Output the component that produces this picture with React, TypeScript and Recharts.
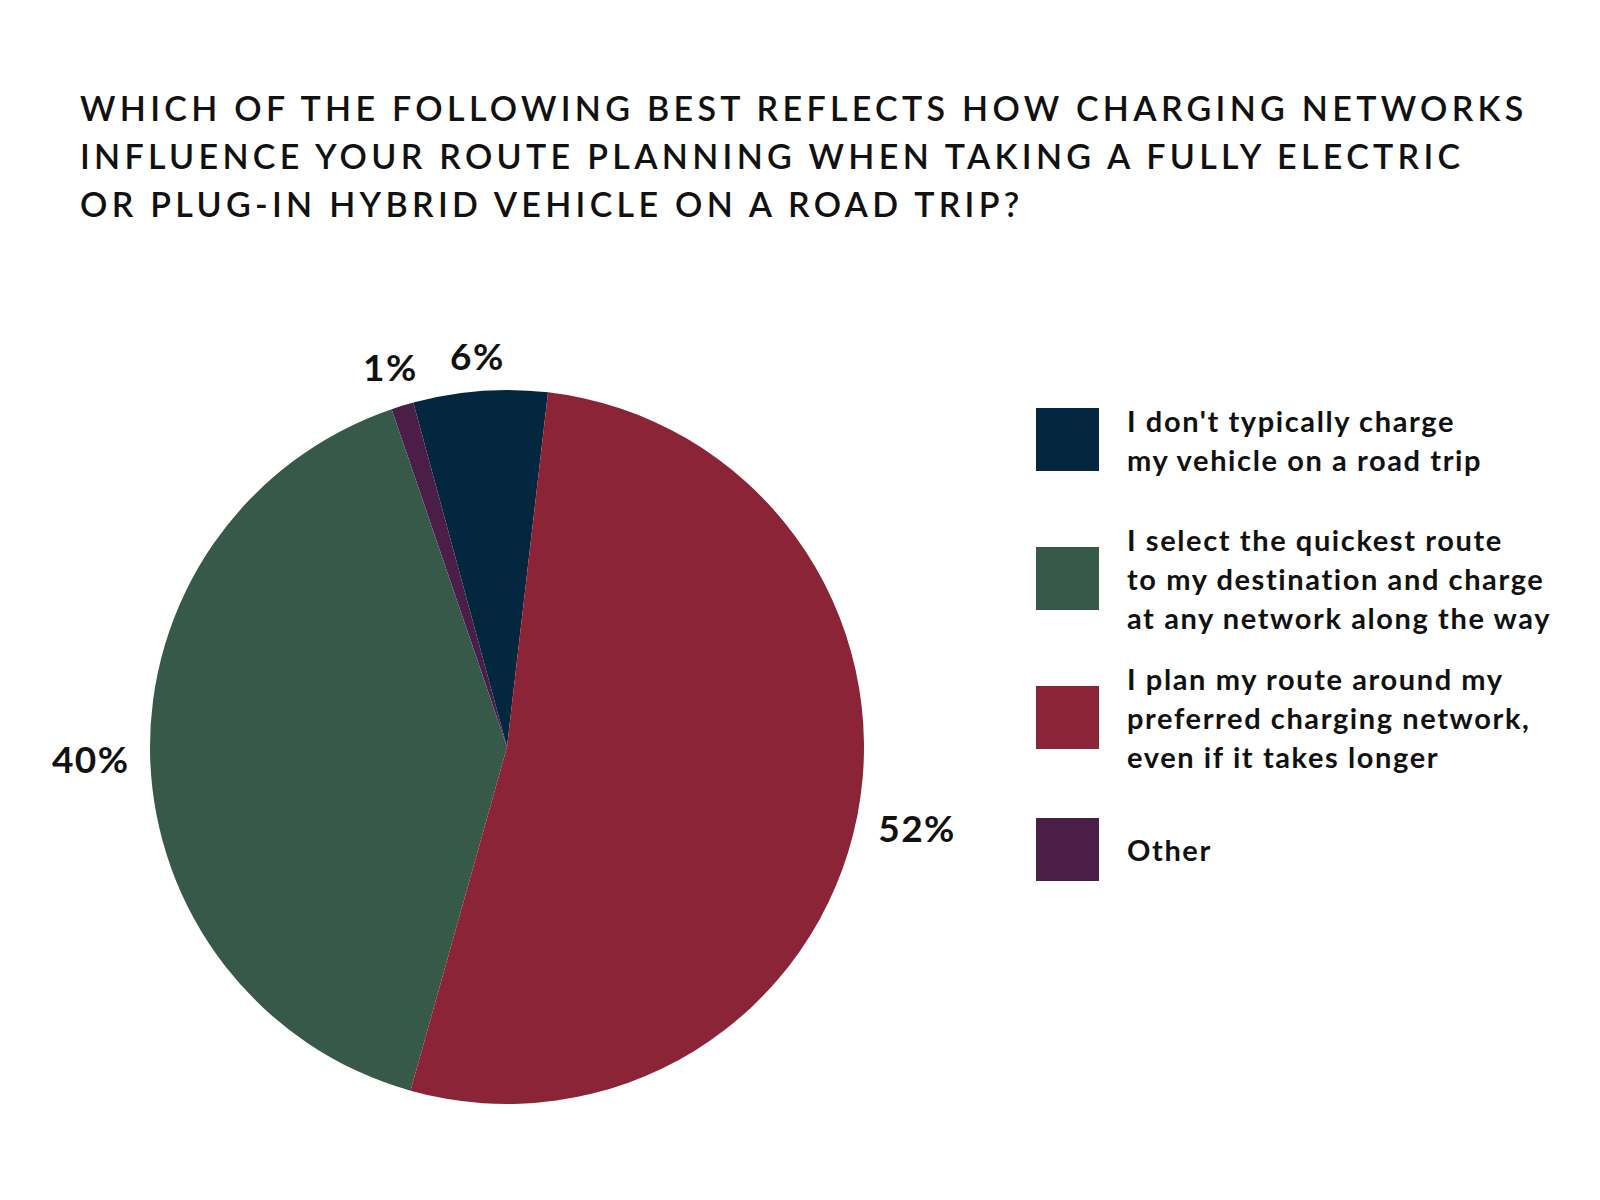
import { PieChart, Pie, Cell, Legend } from 'recharts';

const titleLines = [
  'WHICH OF THE FOLLOWING BEST REFLECTS HOW CHARGING NETWORKS',
  'INFLUENCE YOUR ROUTE PLANNING WHEN TAKING A FULLY ELECTRIC',
  'OR PLUG-IN HYBRID VEHICLE ON A ROAD TRIP?',
];

const categories = [
  "I don't typically charge my vehicle on a road trip",
  'I select the quickest route to my destination and charge at any network along the way',
  'I plan my route around my preferred charging network, even if it takes longer',
  'Other',
];

// legend text broken the way the reference breaks it
const legendLines = [
  ["I don't typically charge", 'my vehicle on a road trip'],
  ['I select the quickest route', 'to my destination and charge', 'at any network along the way'],
  ['I plan my route around my', 'preferred charging network,', 'even if it takes longer'],
  ['Other'],
];

const shares = [6, 40, 52, 1];
const colors = ['#03273F', '#36594A', '#8A2436', '#4A1E47'];

// slices go counter-clockwise starting just right of 12 o'clock
const sliceOrder = [0, 3, 1, 2];

const pieData = sliceOrder.map((i) => ({ name: categories[i], value: shares[i], fill: colors[i] }));

const FONT = 'Lato, "Open Sans", sans-serif';
const RAD = Math.PI / 180;

function PctLabel(props: any) {
  const { cx, cy, midAngle, outerRadius, value } = props;
  const text = `${value}%`;
  const w = text.length * 26;
  const h = 28;
  const c = Math.cos(-midAngle * RAD);
  const s = Math.sin(-midAngle * RAD);
  const r = outerRadius + 20 + (Math.abs(c) * w) / 2 + (Math.abs(s) * h) / 2;
  return (
    <text
      x={cx + r * c}
      y={cy + r * s}
      textAnchor="middle"
      dominantBaseline="central"
      fill="#111"
      style={{ fontFamily: FONT, fontSize: 37, fontWeight: 700, letterSpacing: 1.5 }}
    >
      {text}
    </text>
  );
}

function LegendBlock() {
  return (
    <div style={{ fontFamily: FONT }}>
      {categories.map((name, i) => (
        <div
          key={name}
          style={{ display: 'flex', alignItems: 'center', height: i === categories.length - 1 ? 124 : 139 }}
        >
          <div style={{ width: 63, height: 63, background: colors[i], flexShrink: 0 }} />
          <div
            style={{
              marginLeft: 28,
              fontSize: 29,
              fontWeight: 700,
              letterSpacing: 1.6,
              lineHeight: '39px',
              color: '#111',
            }}
          >
            {legendLines[i].map((line) => (
              <div key={line} style={{ whiteSpace: 'nowrap' }}>{line}</div>
            ))}
          </div>
        </div>
      ))}
    </div>
  );
}

export default function App() {
  return (
    <div style={{ position: 'absolute', left: 0, top: 0, width: 1600, height: 1200, background: '#fff' }}>
      <div
        style={{
          position: 'absolute',
          left: 80,
          top: 84,
          fontFamily: FONT,
          fontSize: 34,
          fontWeight: 600,
          lineHeight: '48px',
          letterSpacing: 4.3,
          color: '#111',
          whiteSpace: 'nowrap',
          zIndex: 1,
        }}
      >
        {titleLines.map((line) => (
          <div key={line}>{line}</div>
        ))}
      </div>
      <PieChart width={1600} height={1200} margin={{ top: 0, right: 0, bottom: 0, left: 0 }}>
        <Pie
          data={pieData}
          dataKey="value"
          nameKey="name"
          cx={507}
          cy={747}
          outerRadius={357}
          startAngle={83.4}
          endAngle={443.4}
          stroke="none"
          labelLine={false}
          label={PctLabel}
          isAnimationActive={false}
        >
          {pieData.map((d) => (
            <Cell key={d.name} fill={d.fill} />
          ))}
        </Pie>
        <Legend
          layout="vertical"
          content={() => <LegendBlock />}
          wrapperStyle={{ left: 1036, top: 370, width: 560, bottom: 'auto' }}
        />
      </PieChart>
    </div>
  );
}
